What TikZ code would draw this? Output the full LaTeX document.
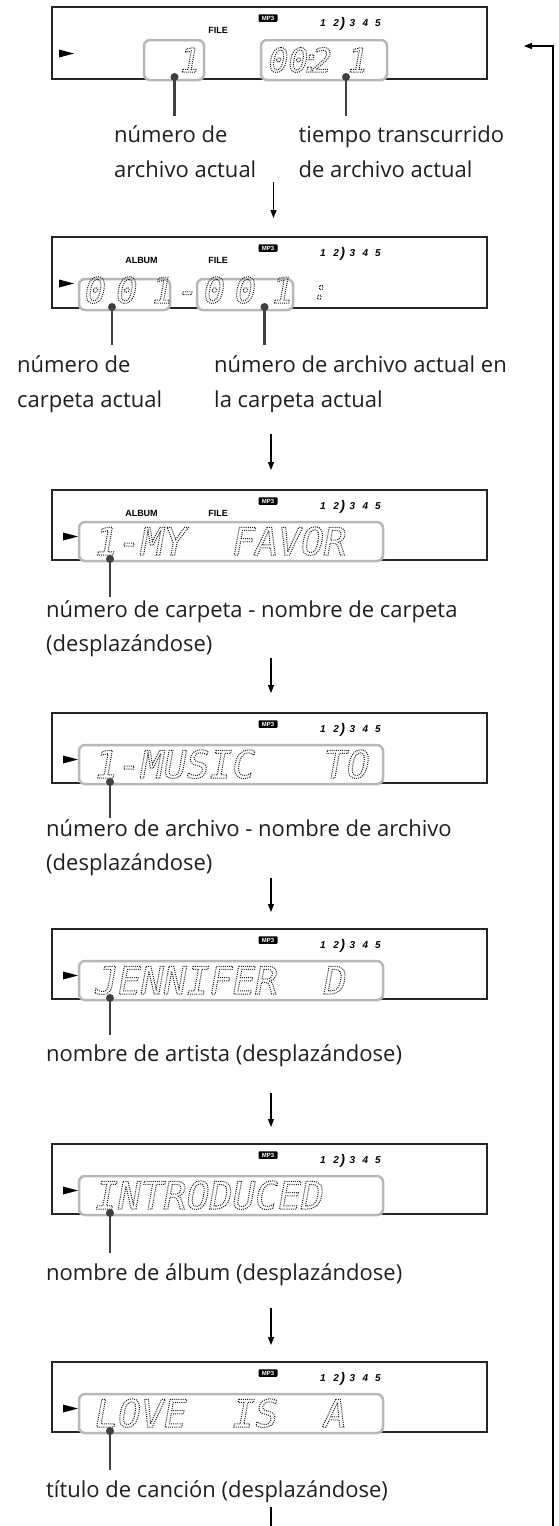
\documentclass[tikz,border=0pt]{standalone}
\usepackage{fontspec}
\setmainfont{Open Sans}
\newfontfamily\lcdfont[FakeSlant=0.18]{DejaVu Sans Mono}
\newfontfamily\indfont{Liberation Sans}
\usetikzlibrary{arrows.meta}
\definecolor{lcdgray}{gray}{0.12}
\definecolor{boxgray}{gray}{0.72}
\definecolor{leadgray}{gray}{0.25}
\definecolor{txtgray}{gray}{0.12}
\newcommand\lcdon{\special{pdf:literal direct 1 Tr [1 1.1] 0 d 1 w}}
\newcommand\lcdoff{\special{pdf:literal direct 0 Tr [] 0 d}}
\newcommand\lcdtext[1]{\lcdon#1\lcdoff}
\tikzset{
  dframe/.style={draw=black!85, line width=1.2pt, minimum width=435pt, inner sep=0pt, outer sep=0pt, anchor=north west},
  lcdbox/.style={draw=boxgray, line width=2.5pt, fill=white, rounded corners=6pt, inner sep=0pt, outer sep=0pt, anchor=north west},
  lcd/.style={font=\lcdfont\fontsize{38}{40}\selectfont, text=lcdgray, inner sep=0pt, anchor=base west},
  lcdsmall/.style={lcd, font=\lcdfont\fontsize{33}{35}\selectfont},
  lcdmid/.style={lcd, font=\lcdfont\fontsize{35.5}{37}\selectfont},
  mpbadge/.style={fill=black, text=white, font=\indfont\bfseries\fontsize{6}{6}\selectfont, inner sep=0pt, minimum width=19pt, minimum height=7.5pt, rounded corners=0.8pt},
  ind/.style={font=\indfont\bfseries\fontsize{9}{9}\selectfont, inner sep=0pt},
  nums/.style={font=\indfont\bfseries\itshape\fontsize{10}{10}\selectfont, inner sep=0pt, anchor=west},
  lbl/.style={font=\fontsize{22}{35}\selectfont, text=txtgray, inner sep=0pt, anchor=base west, align=left},
  lbllow/.style={lbl, font=\fontsize{22}{34}\selectfont},
  leader/.style={draw=leadgray, line width=2.8pt},
  dot/.style={fill=leadgray},
  flow/.style={draw=black, line width=1.1pt, -{Triangle[length=8pt,width=6pt]}},
  plain/.style={draw=black, line width=1.1pt},
}
% #1 name, #2 top, #3 height, #4 triangle left
\newcommand\Disp[4]{%
  \node[dframe, minimum height=#3pt] (#1) at (52,#2) {};
  \node[mpbadge] (#1mp) at (268,{#2+11}) {MP3};
  \node[nums] (#1num) at (320,{#2+17}) {1\hspace{7.5pt}2\hspace{1.6pt}\raisebox{-1.5pt}{\fontsize{14}{14}\selectfont)}\hspace{4.5pt}3\hspace{7.5pt}4\hspace{7pt}5};
  \fill (#4,{#2+42.5}) -- ({#4+15},{#2+46.5}) -- (#4,{#2+50.5}) -- cycle;
}
\begin{document}
\begin{tikzpicture}[x=1pt,y=-1pt]
\useasboundingbox (0,0) rectangle (558,1526);

% ---------- display 1
\Disp{d1}{7}{72}{59}
\node[ind] (d1file) at (218,30) {FILE};
\node[lcdbox, minimum width=60pt, minimum height=40pt] (b1a) at (144,40) {};
\node[lcdbox, minimum width=126pt, minimum height=40pt] (b1b) at (261,40) {};
\node[lcdsmall, anchor=base] (t1a) at (188,72) {\lcdtext{1}};
\node[lcdsmall] (t1b) at (266.3,72) {\lcdtext{00\kern-7.3pt:\kern-8.9pt2\kern16.2pt1}};
\coordinate (p1a) at (174.5,77);
\coordinate (p1b) at (346,77);
\coordinate (e1a) at (174.5,116);
\coordinate (e1b) at (346,116);
\draw[leader] (p1a) -- (e1a);
\draw[leader] (p1b) -- (e1b);
\fill[dot] (p1a) circle (4pt);
\fill[dot] (p1b) circle (4pt);
\node[lbl] (l1a) at (114,177) {número de\\archivo actual};
\node[lbl] (l1b) at (298.5,177) {tiempo transcurrido\\de archivo actual};
\coordinate (a1s) at (273.5,182);
\coordinate (a1e) at (273.5,218);
\draw[flow] (a1s) -- (a1e);

% ---------- display 2
\Disp{d2}{237}{71}{59}
\node[ind] (d2album) at (141.5,260) {ALBUM};
\node[ind] (d2file) at (218,260) {FILE};
\node[lcdbox, minimum width=91pt, minimum height=31pt] (b2a) at (79,279) {};
\node[lcdbox, minimum width=96pt, minimum height=31pt] (b2b) at (197,279) {};
\node[lcdmid] (t2a) at (82.3,303) {\lcdtext{0\kern10pt0\kern14.5pt1}};
\node[lcdmid, anchor=base] (t2dash) at (185.5,303) {\lcdtext{-}};
\node[lcdmid] (t2b) at (201.3,303) {\lcdtext{0\kern9.6pt0\kern16pt1}};
\node[lcd, anchor=base, font=\lcdfont\fontsize{26}{26}\selectfont] (t2c) at (319,299) {\lcdtext{:}};
\coordinate (p2a) at (112,307);
\coordinate (p2b) at (264.5,307);
\coordinate (e2a) at (112,345);
\coordinate (e2b) at (264.5,345);
\draw[leader] (p2a) -- (e2a);
\draw[leader] (p2b) -- (e2b);
\fill[dot] (p2a) circle (4pt);
\fill[dot] (p2b) circle (4pt);
\node[lbl] (l2a) at (17,407) {número de\\carpeta actual};
\node[lbl] (l2b) at (214,407) {número de archivo actual en\\la carpeta actual};
\coordinate (a2s) at (271,434);
\coordinate (a2e) at (271,470);
\draw[flow] (a2s) -- (a2e);

% ---------- display 3
\Disp{d3}{490}{70}{63}
\node[ind] (d3album) at (141.5,513) {ALBUM};
\node[ind] (d3file) at (218,513) {FILE};
\node[lcdbox, minimum width=304pt, minimum height=39pt] (b3) at (79,522) {};
\node[lcd] (t3) at (92.6,555) {\lcdtext{1-MY\ \ FAVOR}};
\coordinate (p3) at (110,559);
\coordinate (e3) at (110,597);
\draw[leader] (p3) -- (e3);
\fill[dot] (p3) circle (4pt);
\node[lbllow] (l3) at (46,651) {número de carpeta - nombre de carpeta\\(desplazándose)};
\coordinate (a3s) at (271,658);
\coordinate (a3e) at (271,693);
\draw[flow] (a3s) -- (a3e);

% ---------- display 4
\Disp{d4}{713}{70}{63}
\node[lcdbox, minimum width=304pt, minimum height=39pt] (b4) at (79,745) {};
\node[lcd] (t4) at (92.6,778) {\lcdtext{1-MUSIC\ \ \ TO}};
\coordinate (p4) at (110,782);
\coordinate (e4) at (110,818);
\draw[leader] (p4) -- (e4);
\fill[dot] (p4) circle (4pt);
\node[lbllow] (l4) at (46,870) {número de archivo - nombre de archivo\\(desplazándose)};
\coordinate (a4s) at (271,878);
\coordinate (a4e) at (271,912);
\draw[flow] (a4s) -- (a4e);

% ---------- display 5
\Disp{d5}{929}{70}{63}
\node[lcdbox, minimum width=304pt, minimum height=39pt] (b5) at (79,961) {};
\node[lcd] (t5) at (92.6,994) {\lcdtext{JENNIFER\ \ D}};
\coordinate (p5) at (110,998);
\coordinate (e5) at (110,1035);
\draw[leader] (p5) -- (e5);
\fill[dot] (p5) circle (4pt);
\node[lbl] (l5) at (46,1061) {nombre de artista (desplazándose)};
\coordinate (a5s) at (271,1093);
\coordinate (a5e) at (271,1127);
\draw[flow] (a5s) -- (a5e);

% ---------- display 6
\Disp{d6}{1144}{70}{63}
\node[lcdbox, minimum width=304pt, minimum height=39pt] (b6) at (79,1176) {};
\node[lcd] (t6) at (92.6,1209) {\lcdtext{INTRODUCED}};
\coordinate (p6) at (110,1213);
\coordinate (e6) at (110,1253);
\draw[leader] (p6) -- (e6);
\fill[dot] (p6) circle (4pt);
\node[lbl] (l6) at (46,1280) {nombre de álbum (desplazándose)};
\coordinate (a6s) at (271,1308);
\coordinate (a6e) at (271,1345);
\draw[flow] (a6s) -- (a6e);

% ---------- display 7
\Disp{d7}{1362}{70}{63}
\node[lcdbox, minimum width=304pt, minimum height=39pt] (b7) at (79,1394) {};
\node[lcd] (t7) at (92.6,1427) {\lcdtext{LOVE\ \ IS\ \ A}};
\coordinate (p7) at (110,1431);
\coordinate (e7) at (110,1470);
\draw[leader] (p7) -- (e7);
\fill[dot] (p7) circle (4pt);
\node[lbl] (l7) at (46,1497) {título de canción (desplazándose)};
\coordinate (a7s) at (271,1507);
\coordinate (a7e) at (271,1526);
\draw[plain] (a7s) -- (a7e);

% ---------- feedback loop
\coordinate (fb0) at (553,1526);
\coordinate (fb1) at (553,46);
\coordinate (fb2) at (524,46);
\draw[flow] (fb0) -- (fb1) -- (fb2);
\end{tikzpicture}
\end{document}
